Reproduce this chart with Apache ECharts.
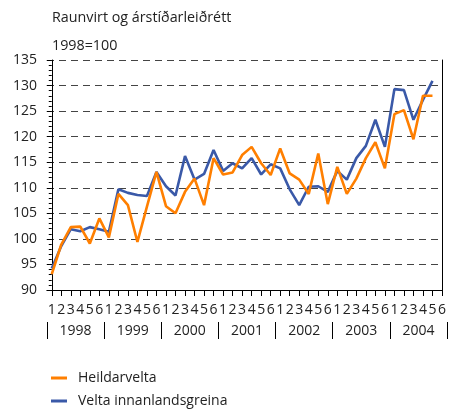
<!DOCTYPE html>
<html>
<head>
<meta charset="utf-8">
<script src="https://cdn.jsdelivr.net/npm/echarts@6/dist/echarts.min.js"></script>
<style>
  html, body { margin: 0; padding: 0; background: #fff; }
  #container { width: 449px; height: 410px; }
</style>
</head>
<body>
<div id="container"></div>
<script>
var periods = ['1', '2', '3', '4', '5', '6'];
var years = ['1998', '1999', '2000', '2001', '2002', '2003', '2004'];
// tvímánaðartímabil, 1998:1 - 2004:5
var heildarvelta = [
    93.1, 98.9, 102.3, 102.4, 99.1, 104.0,
    100.3, 108.8, 106.6, 99.4, 106.3, 113.1,
    106.4, 105.0, 109.2, 111.8, 106.6, 115.8,
    112.6, 113.0, 116.4, 118.0, 114.8, 112.5,
    117.7, 112.8, 111.6, 108.8, 116.7, 106.8,
    114.1, 108.8, 111.8, 115.8, 118.9, 113.8,
    124.4, 125.2, 119.5, 128.0, 128.0
];
var veltaInnanlands = [
    94.2, 98.6, 101.9, 101.5, 102.3, 101.9,
    101.4, 109.7, 109.0, 108.6, 108.4, 113.1,
    110.3, 108.5, 116.2, 111.6, 112.7, 117.4,
    113.3, 114.8, 113.8, 115.8, 112.6, 114.6,
    113.8, 109.7, 106.6, 110.2, 110.3, 109.2,
    113.3, 111.6, 115.8, 118.2, 123.3, 118.0,
    129.3, 129.1, 123.3, 127.2, 130.9
];

var font = '"Open Sans", sans-serif';
var txt = '#222';

var periodTicks = [];
for (var i = 0; i < years.length * periods.length; i++) periodTicks.push(i);
var yearBounds = [], yearCenters = [];
for (var k = 0; k <= years.length; k++) yearBounds.push(k * 6 - 0.5);
for (var k = 0; k < years.length; k++) yearCenters.push(k * 6 + 2.5);

var toPairs = function (arr) {
    return arr.map(function (v, idx) { return [idx, v]; });
};

var legendItem = function (name, top) {
    return {
        left: 46,
        top: top,
        itemWidth: 16,
        itemHeight: 3,
        icon: 'rect',
        data: [name],
        textStyle: { fontFamily: font, fontSize: 14, color: txt, padding: [0, 0, 0, 6] }
    };
};

var myChart = echarts.init(document.getElementById('container'));
var option = {
    animation: false,
    backgroundColor: '#fff',
    textStyle: { fontFamily: font },
    title: [
        { text: 'Raunvirt og árstíðarleiðrétt', left: 47, top: 6,
          textStyle: { fontFamily: font, fontSize: 14.3, fontWeight: 'normal', color: txt } },
        { text: '1998=100', left: 47, top: 34,
          textStyle: { fontFamily: font, fontSize: 14.3, fontWeight: 'normal', color: txt } }
    ],
    legend: [
        legendItem('Heildarvelta', 366),
        legendItem('Velta innanlandsgreina', 389)
    ],
    grid: [
        { left: 47, right: 7, top: 60, bottom: 120 },
        { left: 47, width: 400, top: 321, height: 1 }
    ],
    xAxis: [
        {
            type: 'value', gridIndex: 0, min: -0.5, max: 41,
            axisLine: { show: true, lineStyle: { color: '#000', width: 1 } },
            axisTick: { show: true, customValues: periodTicks, length: 6, lineStyle: { color: '#000' } },
            axisLabel: {
                customValues: periodTicks, margin: 13,
                fontFamily: font, fontSize: 14, color: txt,
                formatter: function (v) { return periods[Math.round(v) % 6]; }
            },
            splitLine: { show: false }
        },
        {
            type: 'value', gridIndex: 1, min: -0.5, max: 41.5,
            axisLine: { show: false },
            axisTick: { show: true, customValues: yearBounds, length: 17, lineStyle: { color: '#000' } },
            axisLabel: {
                customValues: yearCenters, margin: 2,
                fontFamily: font, fontSize: 14, color: txt,
                formatter: function (v) { return years[Math.round((v - 2.5) / 6)]; }
            },
            splitLine: { show: false }
        }
    ],
    yAxis: [
        {
            type: 'value', gridIndex: 0, min: 90, max: 135, interval: 5,
            axisLine: { show: true, lineStyle: { color: '#000', width: 1 } },
            axisTick: { show: true, length: 5, lineStyle: { color: '#000' } },
            minorTick: { show: true, splitNumber: 5, length: 3, lineStyle: { color: '#000' } },
            axisLabel: { margin: 10, fontFamily: font, fontSize: 14, color: txt },
            splitLine: { show: true, lineStyle: { color: '#444', width: 1, type: [7, 5] } }
        },
        {
            type: 'value', gridIndex: 0, min: 90, max: 135, position: 'right',
            axisLine: { show: true, lineStyle: { color: '#000', width: 1 } },
            axisTick: { show: false },
            axisLabel: { show: false },
            splitLine: { show: false }
        },
        {
            type: 'value', gridIndex: 1, min: 0, max: 1, show: false
        }
    ],
    series: [
        {
            name: 'Velta innanlandsgreina',
            type: 'line',
            xAxisIndex: 0, yAxisIndex: 0,
            data: toPairs(veltaInnanlands),
            showSymbol: false,
            color: '#3a59a8',
            lineStyle: { width: 2.6, color: '#3a59a8' },
            z: 2
        },
        {
            name: 'Heildarvelta',
            type: 'line',
            xAxisIndex: 0, yAxisIndex: 0,
            data: toPairs(heildarvelta),
            showSymbol: false,
            color: '#ff7f00',
            lineStyle: { width: 2.6, color: '#ff7f00' },
            z: 3
        }
    ]
};
myChart.setOption(option);
</script>
</body>
</html>
